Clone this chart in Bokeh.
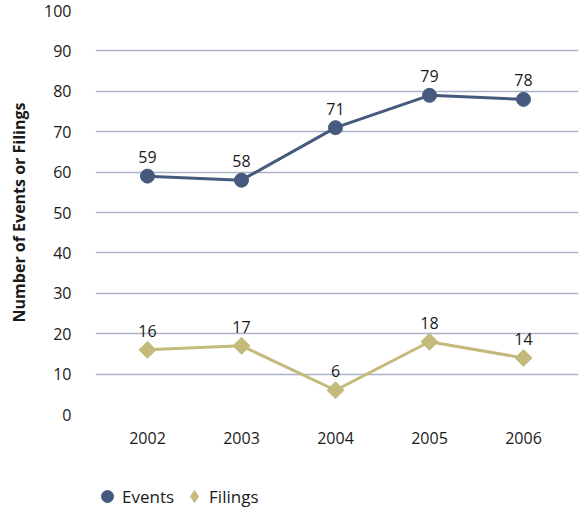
import numpy as np
from bokeh.plotting import figure
from bokeh.layouts import column
from bokeh.models import ColumnDataSource, Range1d, FixedTicker, Legend, LegendItem
from bokeh.core.properties import value
from bokeh.embed import file_html
from bokeh.resources import INLINE

years = ["2002", "2003", "2004", "2005", "2006"]
events = [59, 58, 71, 79, 78]
filings = [16, 17, 6, 18, 14]
y_ticks = [0, 10, 20, 30, 40, 50, 60, 70, 80, 90, 100]

EV_COLOR = "#455a7e"
FI_COLOR = "#c3ba7b"
FONT = "Open Sans"
TXT = "#1a1a1a"

xs = list(range(len(years)))
src_e = ColumnDataSource(dict(x=xs, y=events, t=[str(v) for v in events]))
src_f = ColumnDataSource(dict(x=xs, y=filings, t=[str(v) for v in filings]))

p = figure(width=585, height=467, output_backend="svg", toolbar_location=None,
           x_range=Range1d(-0.553, 4.585), y_range=Range1d(0, 100),
           min_border_left=95, min_border_right=7, min_border_top=10, min_border_bottom=53)
p.outline_line_color = None
p.background_fill_color = "white"
p.border_fill_color = "white"

# grid
p.xgrid.grid_line_color = None
p.ygrid.grid_line_color = "#aab3c5"
p.ygrid.grid_line_width = 1.5

# axes
p.yaxis.ticker = FixedTicker(ticks=y_ticks)
p.xaxis.ticker = FixedTicker(ticks=xs)
p.xaxis.major_label_overrides = {i: y for i, y in enumerate(years)}
for ax in (p.xaxis[0], p.yaxis[0]):
    ax.axis_line_color = None
    ax.major_tick_line_color = None
    ax.minor_tick_line_color = None
    ax.major_tick_out = 0
    ax.major_tick_in = 0
    ax.major_label_text_font = FONT
    ax.major_label_text_font_size = "16px"
    ax.major_label_text_color = TXT
p.yaxis.major_label_standoff = 24
p.xaxis.major_label_standoff = 17
p.yaxis.axis_label = "Number of Events or Filings"
p.yaxis.axis_label_text_font = FONT
p.yaxis.axis_label_text_font_style = "bold"
p.yaxis.axis_label_text_font_size = "16px"
p.yaxis.axis_label_text_color = TXT
p.yaxis.axis_label_standoff = 11

# series
p.line("x", "y", source=src_e, line_color=EV_COLOR, line_width=3)
p.line("x", "y", source=src_f, line_color=FI_COLOR, line_width=3)
p.scatter("x", "y", source=src_e, marker="circle", size=14,
          fill_color=EV_COLOR, line_color=EV_COLOR)
p.scatter("x", "y", source=src_f, marker="square", angle=np.pi / 4, size=12,
          fill_color=FI_COLOR, line_color=FI_COLOR)

for src in (src_e, src_f):
    p.text("x", "y", text="t", source=src, text_align="center", text_baseline="alphabetic",
           y_offset=-19, text_font=value(FONT), text_font_size="16px", text_color=TXT)

# legend strip (its swatch renderers sit outside the strip's visible range)
lg = figure(width=585, height=40, output_backend="svg", toolbar_location=None,
            x_axis_type=None, y_axis_type=None, min_border=0,
            x_range=Range1d(0, 1), y_range=Range1d(0, 1))
lg.outline_line_color = None
lg.xgrid.grid_line_color = None
lg.ygrid.grid_line_color = None
le = lg.scatter(x=[-5], y=[-5], marker="circle", fill_color=EV_COLOR, line_color=EV_COLOR)
lf = lg.scatter(x=[-5], y=[-5], marker="diamond", fill_color=FI_COLOR, line_color=FI_COLOR)
legend = Legend(items=[LegendItem(label="Events", renderers=[le]),
                       LegendItem(label="Filings", renderers=[lf])],
                orientation="horizontal", location=(-3, -4),
                glyph_width=30, glyph_height=30, label_standoff=0, spacing=5,
                padding=0, margin=0, border_line_color=None, background_fill_alpha=0,
                label_text_font=FONT, label_text_font_size="17px", label_text_color=TXT)
lg.add_layout(legend, "center")

layout = column(p, lg, spacing=0)
open("out.html", "w").write(file_html(layout, INLINE))
